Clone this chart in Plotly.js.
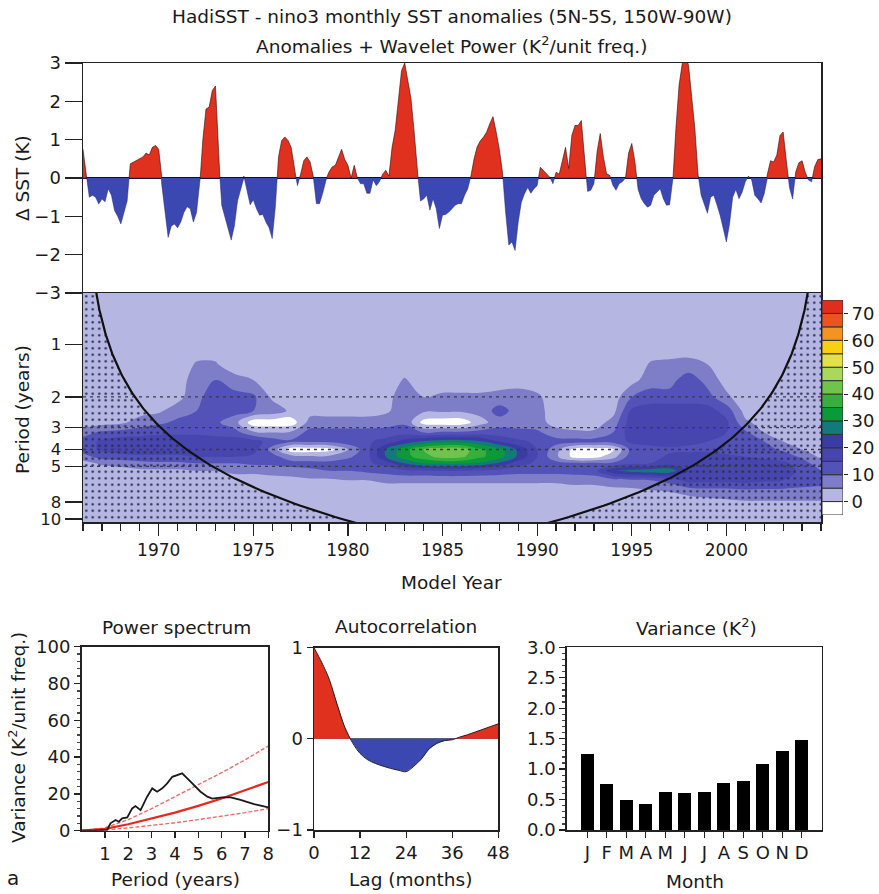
<!DOCTYPE html>
<html><head><meta charset="utf-8">
<script src="https://cdn.plot.ly/plotly-3.0.1.min.js"></script>
<style>html,body{margin:0;padding:0;background:#fff}#chart{width:879px;height:894px}</style>
</head><body><div id="chart"></div>
<script>
// ---------------- DATA ----------------
// Monthly-ish (2-month sampled) Nino3 SST anomalies (K), starting 1966.0
const sstStart = 1966, sstStepYears = 1 / 6;
const sstAnom = [
  0.75, 0.1, -0.5, -0.45, -0.5, -0.68,
  -0.55, -0.62, -0.28, -0.45, -0.85, -1.0,
  -1.2, -0.9, -0.6, 0.37, 0.42, 0.46,
  0.5, 0.55, 0.65, 0.6, 0.8, 0.85,
  0.75, -0.2, -0.9, -1.55, -1.25, -1.2,
  -1.3, -1.15, -0.9, -0.75, -0.8, -1.15,
  -0.9, -0.2, 1.0, 1.8, 1.85, 2.28,
  2.4, 0.5, -0.72, -1.05, -1.32, -1.62,
  -1.25, -0.6, -0.3, 0.05, -0.35, -0.7,
  -0.57, -0.8, -0.97, -0.95, -1.15, -1.3,
  -1.58, -0.75, 0.55, 0.98, 1.07, 0.98,
  0.8, 0.25, -0.2, 0.1, 0.45, 0.55,
  0.42, 0.05, -0.67, -0.67, -0.4, -0.05,
  0.16, 0.29, 0.33, 0.55, 0.75, 0.48,
  0.33, 0.0, 0.33, 0.0, -0.15, -0.15,
  -0.4, -0.4, -0.05, -0.2, -0.1, 0.1,
  0.2, 0.05, 0.8, 1.25, 2.1, 2.8,
  3.0, 2.5, 2.07, 1.2, 0.2, -0.6,
  -0.55, -0.45, -0.84, -0.54, -0.8, -1.32,
  -0.97, -0.95, -0.89, -0.8, -0.71, -0.67,
  -0.67, -0.45, -0.28, 0.05, 0.5, 0.82,
  0.97, 1.07, 1.2, 1.42, 1.6, 1.2,
  0.75, 0.15, -0.9, -1.75, -1.67, -1.89,
  -1.15, -0.63, -0.41, -0.25, -0.4, -0.28,
  -0.2, 0.28, 0.2, 0.1, 0.02, -0.15,
  0.15, 0.1, 0.45, 0.8, 0.25, 1.11,
  1.37, 1.37, 1.5, 0.5, -0.35, -0.32,
  -0.15, 0.68, 1.16, 0.55, 0.11, 0.07,
  -0.19, -0.32, -0.15, -0.1, 0.0, 0.65,
  0.9, 0.42, -0.3, -0.54, -0.67, -0.76,
  -0.71, -0.45, -0.37, -0.28, -0.54, -0.71,
  -0.7, -0.1, 1.29, 2.42, 2.98, 3.2,
  2.94, 2.16, 1.29, 0.1, -0.45, -0.71,
  -0.92, -0.5, -0.45, -0.7, -0.97, -1.32,
  -1.67, -1.2, -0.5, -0.3, -0.54, -0.37,
  -0.1, 0.05, -0.05, -0.45, -0.54, -0.65,
  -0.41, 0.1, 0.45, 0.42, 0.6, 1.11,
  1.2, 0.45, -0.25, -0.55, 0.16, 0.4,
  0.45, 0.15, -0.05, -0.1, 0.3, 0.48,
  0.5
];

// Wavelet power grid: one row per year, one value per period
const powerYears = [1966,1967,1968,1969,1970,1971,1972,1973,1974,1975,1976,1977,1978,1979,1980,1981,1982,1983,1984,1985,1986,1987,1988,1989,1990,1991,1992,1993,1994,1995,1996,1997,1998,1999,2000,2001,2002,2003,2004,2005];
const powerPeriods = [0.5,1.0,1.3,1.6,2.0,2.4,2.8,3.2,3.6,4.0,4.4,4.8,5.3,6.0,7.0,8.5,10.5];
const powerByYear = [
  [2,2,2,2,2,2,2,8,12,12,8,3,2,2,2,2,2],
  [2,2,2,2,2,2,3,11,16,16,12,6,2,2,2,2,2],
  [2,2,2,2,2,2,4,12,18,18,13,7,3,2,2,2,2],
  [2,2,2,2,2,3,7,13,18,18,14,8,4,2,2,2,2],
  [2,2,2,2,2,4,9,14,18,18,14,9,4,2,2,2,2],
  [2,2,2,2,3,8,11,14,18,18,14,9,4,2,2,2,2],
  [2,2,5.5,8,9,10,11,14,18,18,15,10,5,2,2,2,2],
  [2,2,5.5,10,12,12,11,13,18,18,15,10,5,2,2,2,2],
  [2,2,2,7,12,12,7,12,18,18,15,10,6,3,2,2,2],
  [2,2,2,5,11,10,-3,6,17,17,14,11,6,3,2,2,2],
  [2,2,2,2,4,8,-3,5,13,8,12,11,7,3,2,2,2],
  [2,2,2,2,2,4,-3,6,11,-3,7,12,8,3,2,2,2],
  [2,2,2,2,2,3,7,12,11,-3,6,12,9,4,2,2,2],
  [2,2,2,2,2,3,7,12,11,-2,6,12,10,4,2,2,2],
  [2,2,2,2,2,3,7,12,13,5,9,13,10,5,2,2,2],
  [2,2,2,2,2,3,7,12,14,13,13,14,11,5,2,2,2],
  [2,2,2,2,3,4,8,12,17,25,25,17,12,6,2,2,2],
  [2,2,2,5.5,8,8,9,13,22,33,33,25,14,6,2,2,2],
  [2,2,2,2,5,6,-2,10,26,40,38,30,14,6,2,2,2],
  [2,2,2,2,6,6,-3,11,28,43,42,31,15,6,2,2,2],
  [2,2,2,2,6,6,-3,11,28,43,41,31,15,6,2,2,2],
  [2,2,2,2,6,7,3,12,26,36,36,29,14,6,2,2,2],
  [2,2,2,2,7,12,8,12,20,32,32,24,13,6,2,2,2],
  [2,2,2,3,7,8,7,12,16,24,24,17,12,6,2,2,2],
  [2,2,2,2,6,7,7,11,14,15,15,14,12,6,2,2,2],
  [2,2,2,2,2,2,3,7,12,7,6,12,12,6,2,2,2],
  [2,2,2,2,2,2,2,6,12,-2,-2,11,12,7,2,2,2],
  [2,2,2,2,2,2,2,6,12,-3,-2,11,13,7,2,2,2],
  [2,2,2,2,2,3,7,10,12,-1,3,11,24,8,3,2,2],
  [2,2,2,3,10,16,18,18,16,12,13,14,27,9,3,2,2],
  [2,2,5.5,8,12,18,20,20,17,13,13,15,28,10,4,2,2],
  [2,2,6,8,12,18,20,20,17,14,16,18,28,12,5,2,2],
  [2,2,6.5,13,12,18,20,19,16,14,17,18,20,17,6,2,2],
  [2,2,5,8,12,17,19,18,15,14,17,19,19,17,7,2,2],
  [2,2,2,3,6,13,16,15,13,13,16,19,19,17,7,3,2],
  [2,2,2,2,2,3,6,11,12,12,15,18,19,17,8,3,2],
  [2,2,2,2,2,2,3,5,10,12,14,17,18,16,8,3,2],
  [2,2,2,2,2,2,2,3,5,9,13,16,17,15,8,3,2],
  [2,2,2,2,2,2,2,2,3,5,9,13,14,13,8,3,2],
  [2,2,2,2,2,2,2,2,2,3,4,6,10,12,8,3,2]
];
const powerLevels = [-5,0,5,10,15,20,25,30,35,40,45,50,55,60,65,70];
const levelColors = ['#ffffff','#b6b6e3','#7d7dc8','#5252b8','#4646ae','#3b3ba5','#127a7a','#0a9a38','#34b03c','#70c44a','#aad85a','#e2e246','#f8cf12','#f29322','#eb5422','#e02e1e'];
const colorbarTicks = [0,10,20,30,40,50,60,70];
const yearTicks = [1970,1975,1980,1985,1990,1995,2000];
const periodTicks = [1,2,3,4,5,8,10];
const coiFactor = 0.7305;          // Morlet cone of influence (period per year from edge)
const refPeriods = [2,3,4,5];

// Power spectrum
const specPeriod = [0,0.5,1.1,1.24,1.46,1.6,1.74,1.96,2.17,2.31,2.53,2.81,3.03,3.24,3.46,3.67,3.89,4.1,4.31,4.53,4.81,5.1,5.39,5.6,6.03,6.39,6.81,7.39,8.0];
const specPower  = [0,0,0.5,4,5.8,4.9,6.7,7.2,12.1,13.4,11.2,18.5,23,21.2,23,25.7,29.3,30.3,31.2,28.4,24.8,21.2,18.5,17.4,18.1,18.1,16.7,14.5,12.7];
const rnPeriod = [0,1,2,3,4,5,6,7,8];
const rnMean   = [0,1,3.5,6.5,9.8,13.5,17.5,22,26.5];
const rnUpper  = [0,1.5,6,12,18.5,25,31.5,38.5,46];
const rnLower  = [0,0.4,1.5,2.8,4.3,6,7.8,9.8,12];

// Autocorrelation (lag in months)
const acLag = [0,2,4,6,8,10,12,14,16,18,20,22,24,26,28,30,32,34,36,38,40,42,44,46,48];
const acVal = [1.0,0.84,0.65,0.38,0.13,-0.04,-0.16,-0.23,-0.27,-0.3,-0.325,-0.345,-0.36,-0.3,-0.22,-0.11,-0.05,-0.02,-0.01,0.02,0.045,0.075,0.105,0.135,0.165];

// Monthly variance (K^2)
const monthLabels = ['J','F','M','A','M','J','J','A','S','O','N','D'];
const monthVariance = [1.24,0.75,0.50,0.42,0.62,0.60,0.62,0.77,0.80,1.08,1.29,1.48];

// ---------------- DRAWING ----------------
const W = 879, H = 894;
const px = v => v / W, py = v => 1 - v / H;
const FONT = 'DejaVu Sans';
const RED = '#e0301e', BLUE = '#3b48b2';

function splitSign(xs, ys) {
  const pos = {x: [], y: []}, neg = {x: [], y: []};
  for (let i = 0; i < xs.length; i++) {
    if (i > 0) {
      const y0 = ys[i-1], y1 = ys[i];
      if ((y0 > 0 && y1 < 0) || (y0 < 0 && y1 > 0)) {
        const xc = xs[i-1] + (xs[i] - xs[i-1]) * (-y0) / (y1 - y0);
        pos.x.push(xc); pos.y.push(0); neg.x.push(xc); neg.y.push(0);
      }
    }
    pos.x.push(xs[i]); pos.y.push(Math.max(ys[i], 0));
    neg.x.push(xs[i]); neg.y.push(Math.min(ys[i], 0));
  }
  return {pos, neg};
}

const sstYears = sstAnom.map((_, i) => sstStart + i * sstStepYears);
const sstSplit = splitSign(sstYears, sstAnom);
const acSplit = splitSign(acLag, acVal);

const t0 = powerYears[0], t1 = powerYears[powerYears.length - 1];
function coiSide(left) {
  const xs = [], ys = [];
  for (let p = 0.45; p <= 11.001; p *= 1.03) {
    const d = p / coiFactor;
    xs.push(left ? t0 + d : t1 - d); ys.push(p);
  }
  return {xs, ys};
}
const coiL = coiSide(true), coiR = coiSide(false);

const traces = [];
traces.push({type:'scatter', mode:'lines', x:sstSplit.pos.x, y:sstSplit.pos.y, xaxis:'x', yaxis:'y',
  fill:'tozeroy', fillcolor:RED, line:{color:'rgba(50,10,10,0.75)', width:0.8}, hoverinfo:'skip'});
traces.push({type:'scatter', mode:'lines', x:sstSplit.neg.x, y:sstSplit.neg.y, xaxis:'x', yaxis:'y',
  fill:'tozeroy', fillcolor:BLUE, line:{color:'rgba(35,35,120,0.8)', width:0.6}, hoverinfo:'skip'});

const nLev = levelColors.length - 1;
traces.push({type:'contour', x:powerYears, y:powerPeriods, z:powerByYear, transpose:true,
  xaxis:'x2', yaxis:'y2', showscale:false, hoverinfo:'skip',
  colorscale: levelColors.map((c, i) => [i / nLev, c]),
  autocontour:false, contours:{start:0, end:70, size:5, coloring:'fill', showlines:false},
  line:{width:0, smoothing:1.1}});

[coiL, coiR].forEach((c, k) => {
  const edge = k === 0 ? t0 : t1;
  traces.push({type:'scatter', mode:'lines', x:[edge].concat(c.xs, [edge]), y:[0.45].concat(c.ys, [11]),
    xaxis:'x2', yaxis:'y2', fill:'toself', fillcolor:'rgba(0,0,0,0)', line:{width:0},
    fillpattern:{shape:'.', fgcolor:'#2a2a50', bgcolor:'rgba(0,0,0,0)', size:6.5, solidity:0.12},
    hoverinfo:'skip'});
});
refPeriods.forEach(p => traces.push({type:'scatter', mode:'lines', x:[t0, t1], y:[p, p],
  xaxis:'x2', yaxis:'y2', line:{color:'#3a3a4a', width:1.3, dash:'3px,4px'}, hoverinfo:'skip'}));
[coiL, coiR].forEach(c => traces.push({type:'scatter', mode:'lines', x:c.xs, y:c.ys,
  xaxis:'x2', yaxis:'y2', line:{color:'#111', width:2.2}, hoverinfo:'skip'}));

// power spectrum
traces.push({type:'scatter', mode:'lines', x:rnPeriod, y:rnUpper, xaxis:'x3', yaxis:'y3', line:{color:'#f06a6a', width:1.4, dash:'4px,2px'}});
traces.push({type:'scatter', mode:'lines', x:rnPeriod, y:rnLower, xaxis:'x3', yaxis:'y3', line:{color:'#f06a6a', width:1.4, dash:'4px,2px'}});
traces.push({type:'scatter', mode:'lines', x:rnPeriod, y:rnMean, xaxis:'x3', yaxis:'y3', line:{color:'#e8281e', width:2.2}});
traces.push({type:'scatter', mode:'lines', x:specPeriod, y:specPower, xaxis:'x3', yaxis:'y3', line:{color:'#1a1a1a', width:1.8}});

// autocorrelation
traces.push({type:'scatter', mode:'lines', x:acSplit.pos.x, y:acSplit.pos.y, xaxis:'x4', yaxis:'y4', fill:'tozeroy', fillcolor:RED, line:{width:0}});
traces.push({type:'scatter', mode:'lines', x:acSplit.neg.x, y:acSplit.neg.y, xaxis:'x4', yaxis:'y4', fill:'tozeroy', fillcolor:BLUE, line:{width:0}});
traces.push({type:'scatter', mode:'lines', x:acLag, y:acVal, xaxis:'x4', yaxis:'y4', line:{color:'#222', width:1, shape:'spline'}});

// monthly variance
traces.push({type:'bar', x:monthVariance.map((_, i) => i), y:monthVariance, xaxis:'x5', yaxis:'y5',
  width:0.68, marker:{color:'#000', line:{width:0}}});

// colour bar built from the same level colours
traces.push({type:'bar', x:levelColors.map(() => 0), y:levelColors.map(() => 5), base:powerLevels,
  xaxis:'x6', yaxis:'y6', width:1, marker:{color:levelColors, line:{color:'#333', width:1}}, hoverinfo:'skip'});

function ax(extra) {
  return Object.assign({showgrid:false, zeroline:false, showline:true, mirror:true, linecolor:'#222', linewidth:1.5,
    ticks:'outside', tickcolor:'#222', tickwidth:1.3, tickfont:{family:FONT, size:18, color:'#1a1a1a'}, fixedrange:true}, extra);
}

const layout = {
  width:W, height:H, margin:{l:0, r:0, t:0, b:0}, paper_bgcolor:'#fff', plot_bgcolor:'#fff',
  showlegend:false, font:{family:FONT, size:18, color:'#1a1a1a'}, bargap:0,
  xaxis: ax({domain:[px(83), px(821)], anchor:'y', range:[1966, 2005], showticklabels:false, ticks:''}),
  yaxis: ax({domain:[py(293), py(63)], anchor:'x', range:[-3, 3], tickvals:[-3,-2,-1,0,1,2,3], ticklen:17,
    zeroline:true, zerolinecolor:'#111', zerolinewidth:1.2}),
  xaxis2: ax({domain:[px(83), px(821)], anchor:'y2', range:[1966, 2005], tickvals:yearTicks,
    ticklen:12, tickfont:{family:FONT, size:17, color:'#1a1a1a'},
    minor:{tickmode:'linear', dtick:1, tick0:1966, ticklen:7, ticks:'outside', tickcolor:'#222', tickwidth:1.2}}),
  yaxis2: ax({domain:[py(522), py(293)], anchor:'x2', type:'log', range:[Math.log10(10.4), Math.log10(0.508)],
    tickvals:periodTicks, ticktext:periodTicks.map(String), ticklen:17,
    tickfont:{family:FONT, size:16.5, color:'#1a1a1a'}}),
  xaxis3: ax({domain:[px(81.5), px(268.3)], anchor:'y3', range:[0, 8], tickvals:[1,2,3,4,5,6,7,8], ticklen:6}),
  yaxis3: ax({domain:[py(830.7), py(646.7)], anchor:'x3', range:[0, 100], dtick:20, ticklen:6,
    minor:{dtick:4, ticklen:3, ticks:'outside', tickcolor:'#444'}}),
  xaxis4: ax({domain:[px(314), px(498.3)], anchor:'y4', range:[0, 48], dtick:12, ticklen:6}),
  yaxis4: ax({domain:[py(830), py(647.7)], anchor:'x4', range:[-1, 1], tickvals:[-1,0,1], ticklen:6,
    zeroline:true, zerolinecolor:'#666', zerolinewidth:1.3}),
  xaxis5: ax({domain:[px(566.7), px(821.7)], anchor:'y5', range:[-1.056, 12.02], tickvals:monthLabels.map((_, i) => i),
    ticktext:monthLabels, ticklen:6}),
  yaxis5: ax({domain:[py(830), py(647.3)], anchor:'x5', range:[0, 3], dtick:0.5, tickformat:'.1f', ticklen:6,
    minor:{dtick:0.1, ticklen:3, ticks:'outside', tickcolor:'#444'}}),
  xaxis6: {domain:[px(822), px(843)], anchor:'y6', range:[-0.5, 0.5], visible:false, fixedrange:true},
  yaxis6: {domain:[py(515), py(300)], anchor:'x6', side:'right', range:[-5, 75], tickvals:colorbarTicks,
    ticks:'outside', ticklen:4, tickcolor:'#222', showline:false, showgrid:false, zeroline:false, fixedrange:true,
    tickfont:{family:FONT, size:18, color:'#1a1a1a'}},
  annotations: []
};

function note(text, x, y, opts) {
  layout.annotations.push(Object.assign({text, xref:'paper', yref:'paper', x:px(x), y:py(y),
    xanchor:'center', yanchor:'middle', showarrow:false, font:{family:FONT, size:18.5, color:'#1a1a1a'}}, opts || {}));
}
note('HadiSST - nino3 monthly SST anomalies (5N-5S, 150W-90W)', 452, 17);
note('Anomalies + Wavelet Power (K<sup>2</sup>/unit freq.)', 452, 45);
note('Δ SST (K)', 22, 178, {textangle:-90});
note('Period (years)', 22, 410, {textangle:-90});
note('Model Year', 452, 582);
note('Power spectrum', 176, 627);
note('Autocorrelation', 406, 626);
note('Variance (K<sup>2</sup>)', 696, 627);
note('Variance (K<sup>2</sup>/unit freq.)', 17, 738, {textangle:-90});
note('Period (years)', 175, 879);
note('Lag (months)', 410, 879);
note('Month', 695, 881);
note('a', 13, 878, {font:{family:FONT, size:20, color:'#1a1a1a'}});

Plotly.newPlot('chart', traces, layout, {displayModeBar:false, staticPlot:true});
</script></body></html>
